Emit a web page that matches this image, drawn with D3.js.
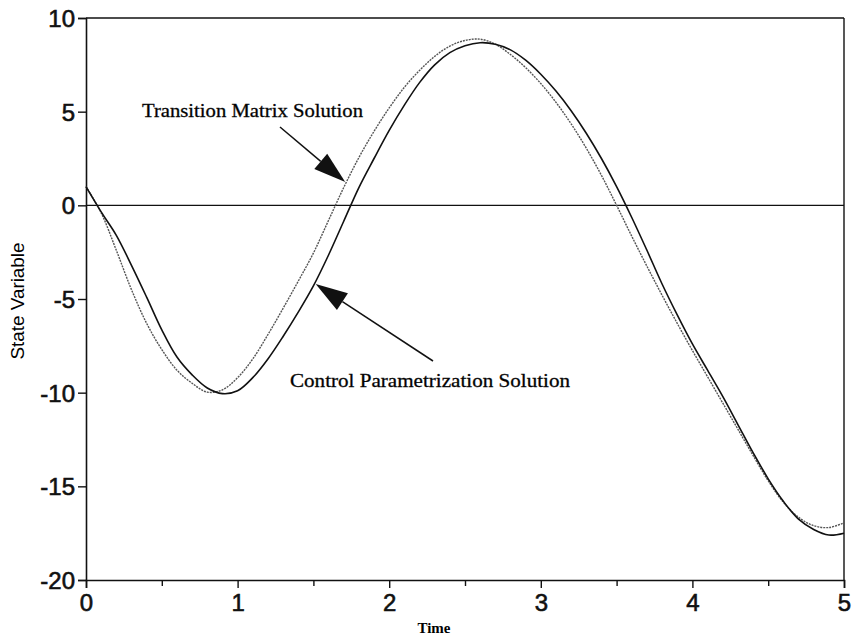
<!DOCTYPE html>
<html><head><meta charset="utf-8">
<script src="https://cdn.jsdelivr.net/npm/d3@7"></script>
<style>body{margin:0;background:#fff}</style>
</head><body>
<svg id="c" width="853" height="638"></svg>
<script>
const timeX = [0,0.1,0.2,0.3,0.4,0.5,0.6,0.7,0.8,0.9,1.0,1.1,1.2,1.3,1.4,1.5,1.6,1.7,1.8,1.9,2.0,2.1,2.2,2.3,2.4,2.5,2.6,2.7,2.8,2.9,3.0,3.1,3.2,3.3,3.4,3.5,3.6,3.7,3.8,3.9,4.0,4.1,4.2,4.3,4.4,4.5,4.6,4.7,4.8,4.9,5.0];
const transitionMatrix = [1.0,-0.4,-2.4,-4.5,-6.3,-7.7,-8.8,-9.5,-9.97,-9.85,-9.2,-8.2,-6.9,-5.5,-4.05,-2.55,-0.8,0.95,2.55,3.95,5.2,6.3,7.2,7.95,8.5,8.8,8.87,8.6,8.05,7.35,6.5,5.5,4.35,3.05,1.6,0,-1.65,-3.25,-4.8,-6.3,-7.75,-9.15,-10.55,-11.95,-13.35,-14.7,-15.85,-16.65,-17.1,-17.2,-16.95];
const controlParam = [1.0,-0.35,-1.6,-3.2,-4.9,-6.65,-8.1,-9.05,-9.75,-10.05,-9.9,-9.2,-8.2,-7.0,-5.7,-4.3,-2.65,-0.85,0.95,2.5,4.0,5.35,6.55,7.5,8.15,8.52,8.68,8.6,8.3,7.75,7.0,6.1,5.05,3.85,2.5,1.0,-0.65,-2.4,-4.2,-5.85,-7.4,-8.8,-10.2,-11.7,-13.2,-14.6,-15.8,-16.75,-17.3,-17.6,-17.5];
const xTicks = [0,1,2,3,4,5];
const xMinorTicks = [0.5,1.5,2.5,3.5,4.5];
const yTicks = [-20,-15,-10,-5,0,5,10];
const xTitle = "Time";
const yTitle = "State Variable";
const labelTM = "Transition Matrix Solution";
const labelCP = "Control Parametrization Solution";

const svg = d3.select("#c");
const x = d3.scaleLinear().domain([0,5]).range([86,844]);
const y = d3.scaleLinear().domain([-20,10]).range([580,18]);

// frame
svg.append("line").attr("x1",x(0)).attr("x2",x(5)).attr("y1",y(10)).attr("y2",y(10)).attr("stroke","#111").attr("stroke-width",1.4);
svg.append("line").attr("x1",x(5)).attr("x2",x(5)).attr("y1",y(10)).attr("y2",y(-20)).attr("stroke","#111").attr("stroke-width",1.4);
// zero line
svg.append("line").attr("x1",x(0)).attr("x2",x(5)).attr("y1",y(0)).attr("y2",y(0)).attr("stroke","#111").attr("stroke-width",1.3);

const tickFont = "'Liberation Sans', Arial, sans-serif";
const fmt = d => String(d);
const yAxis = svg.append("g").attr("transform",`translate(${x(0)},0)`)
  .call(d3.axisLeft(y).tickValues(yTicks).tickSize(8).tickPadding(3).tickFormat(fmt));
const xAxis = svg.append("g").attr("transform",`translate(0,${y(-20)})`)
  .call(d3.axisBottom(x).tickValues(xTicks).tickSize(8).tickPadding(2).tickFormat(fmt));
const xMinor = svg.append("g").attr("transform",`translate(0,${y(-20)})`)
  .call(d3.axisBottom(x).tickValues(xMinorTicks).tickSize(6).tickFormat(""));
xMinor.select(".domain").remove();
[yAxis,xAxis,xMinor].forEach(g=>{
  g.select(".domain").attr("stroke","#111").attr("stroke-width",1.6);
  g.selectAll(".tick line").attr("stroke","#111").attr("stroke-width",1.4);
  g.selectAll("text").attr("fill","#111").attr("stroke","#111").attr("stroke-width",0.6)
    .style("font-family",tickFont).style("font-size","24px");
});
yAxis.selectAll("text").attr("dy","0.36em");
xAxis.selectAll("text").attr("dy","0.88em");

// curves
const line = vals => d3.line().x((d,i)=>x(timeX[i])).y(d=>y(d)).curve(d3.curveCatmullRom.alpha(0.5))(vals);
svg.append("path").attr("d",line(transitionMatrix)).attr("fill","none")
  .attr("stroke","#555").attr("stroke-width",1.4).attr("stroke-dasharray","2,1");
svg.append("path").attr("d",line(controlParam)).attr("fill","none")
  .attr("stroke","#111").attr("stroke-width",1.6);

// axis titles
const serif = "'Liberation Serif', 'Times New Roman', serif";
svg.append("text").attr("x",434).attr("y",633).attr("text-anchor","middle")
  .style("font-family",serif).style("font-weight","bold").style("font-size","15px").text(xTitle);
svg.append("text").attr("transform","translate(24,301) rotate(-90)").attr("text-anchor","middle")
  .attr("textLength",117).attr("lengthAdjust","spacingAndGlyphs")
  .style("font-family",tickFont).style("font-size","18px").text(yTitle);

// annotations
svg.append("text").attr("x",142).attr("y",117).attr("textLength",221).attr("lengthAdjust","spacingAndGlyphs")
  .attr("stroke","#111").attr("stroke-width",0.3)
  .style("font-family",serif).style("font-size","18px").text(labelTM);
svg.append("text").attr("x",290).attr("y",387).attr("textLength",280).attr("lengthAdjust","spacingAndGlyphs")
  .attr("stroke","#111").attr("stroke-width",0.3)
  .style("font-family",serif).style("font-size","18px").text(labelCP);

function arrow(x1,y1,x2,y2){
  const ang = Math.atan2(y2-y1,x2-x1), L=32, W=10;
  const bx = x2 - L*Math.cos(ang), by = y2 - L*Math.sin(ang);
  svg.append("line").attr("x1",x1).attr("y1",y1).attr("x2",bx).attr("y2",by).attr("stroke","#111").attr("stroke-width",1.5);
  const px = -Math.sin(ang)*W, py = Math.cos(ang)*W;
  svg.append("path").attr("d",`M${x2},${y2}L${bx+px},${by+py}L${bx-px},${by-py}Z`).attr("fill","#111");
}
arrow(280,127, x(1.71), y(1.25));
arrow(433,361, x(1.515), y(-4.2));
</script>
</body></html>
